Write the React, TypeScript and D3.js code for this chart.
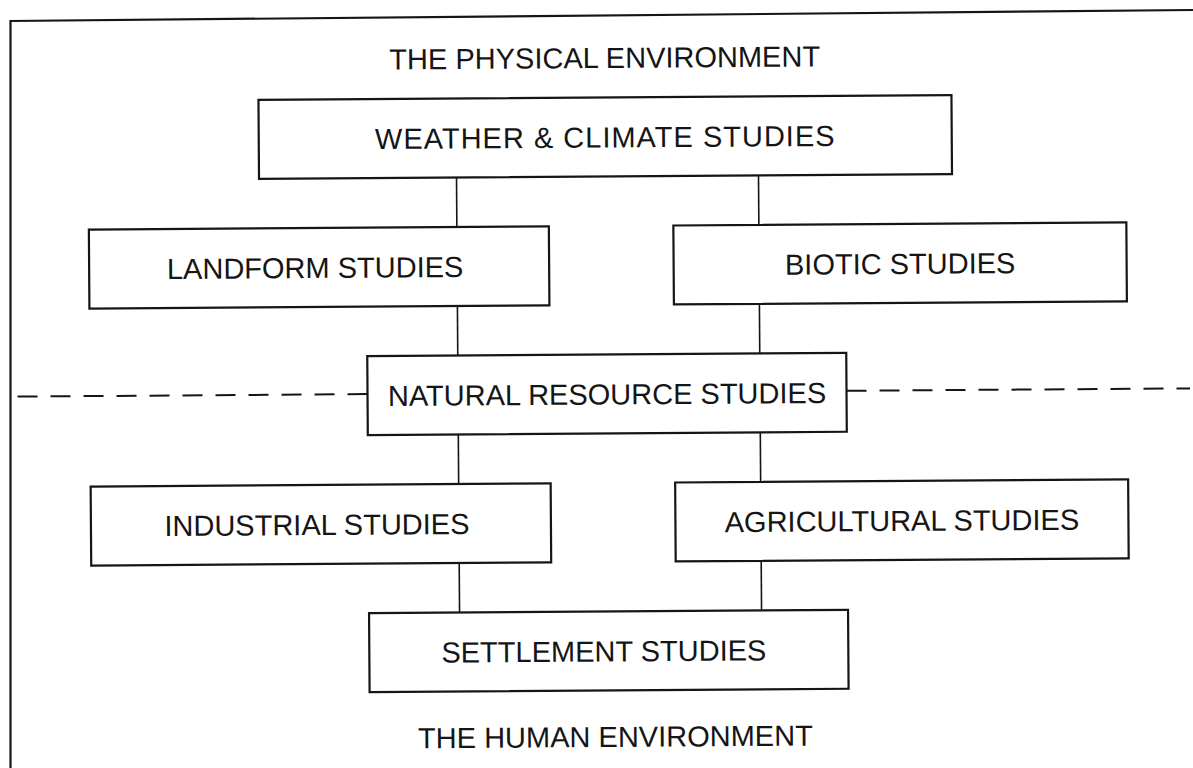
import React, { useEffect, useRef } from 'react';
import * as d3 from 'd3';

const W = 1193;
const H = 768;

const headings = ['THE PHYSICAL ENVIRONMENT', 'THE HUMAN ENVIRONMENT'];
const centreStudies = ['WEATHER & CLIMATE STUDIES', 'NATURAL RESOURCE STUDIES', 'SETTLEMENT STUDIES'];
const leftStudies = ['LANDFORM STUDIES', 'INDUSTRIAL STUDIES'];
const rightStudies = ['BIOTIC STUDIES', 'AGRICULTURAL STUDIES'];
// parent -> child
const links = [
  ['WEATHER & CLIMATE STUDIES', 'LANDFORM STUDIES'],
  ['WEATHER & CLIMATE STUDIES', 'BIOTIC STUDIES'],
  ['LANDFORM STUDIES', 'NATURAL RESOURCE STUDIES'],
  ['BIOTIC STUDIES', 'NATURAL RESOURCE STUDIES'],
  ['NATURAL RESOURCE STUDIES', 'INDUSTRIAL STUDIES'],
  ['NATURAL RESOURCE STUDIES', 'AGRICULTURAL STUDIES'],
  ['INDUSTRIAL STUDIES', 'SETTLEMENT STUDIES'],
  ['AGRICULTURAL STUDIES', 'SETTLEMENT STUDIES'],
];

const INK = '#151515';
const FONT = '"Liberation Sans", Arial, Helvetica, sans-serif';

const App = () => {
  const svgRef = useRef<SVGSVGElement>(null);

  useEffect(() => {
    const svg = d3.select(svgRef.current);
    svg.selectAll('*').remove();

    // build nodes
    const nodes = [
      ...centreStudies.map((name, i) => ({ name, row: i * 2, col: 'centre' })),
      ...leftStudies.map((name, i) => ({ name, row: i * 2 + 1, col: 'left' })),
      ...rightStudies.map((name, i) => ({ name, row: i * 2 + 1, col: 'right' })),
    ];
    const byName = new Map(nodes.map(d => [d.name, d]));

    const y = d3.scaleLinear().domain([0, 4]).range([137, 651]);
    const xCol = d3.scaleOrdinal<string, number>().domain(['left', 'centre', 'right']).range([320, 607, 901]);
    const colWidth = d3.scaleOrdinal<string, number>().domain(['left', 'centre', 'right']).range([460, 479, 453]);
    const lane = d3.scaleOrdinal<string, number>().domain(['left', 'right']).range([458, 760]);
    const boxH = 79;
    const boxW = (d) => (d.row === 0 ? 693 : colWidth(d.col));

    // frame (slightly skewed scan)
    svg.append('line')
      .attr('x1', 10).attr('y1', 21).attr('x2', W).attr('y2', 10)
      .attr('stroke', INK).attr('stroke-width', 2.2);
    svg.append('line')
      .attr('x1', 10.5).attr('y1', 20).attr('x2', 10.5).attr('y2', H)
      .attr('stroke', INK).attr('stroke-width', 2.2);

    const g = svg.append('g').attr('transform', 'rotate(-0.4, 600, 390)');

    // dashed divider through natural resources
    const nat = byName.get('NATURAL RESOURCE STUDIES');
    const ny = y(nat.row) - 1.5;
    g.append('line')
      .attr('x1', xCol(nat.col) - boxW(nat) / 2).attr('x2', 12)
      .attr('y1', ny).attr('y2', ny)
      .attr('stroke', INK).attr('stroke-width', 2).attr('stroke-dasharray', '20,13');
    g.append('line')
      .attr('x1', xCol(nat.col) + boxW(nat) / 2).attr('x2', 1190)
      .attr('y1', ny).attr('y2', ny)
      .attr('stroke', INK).attr('stroke-width', 2).attr('stroke-dasharray', '20,13');

    // connectors
    const laneX = d => {
      const s = byName.get(d[0]), t = byName.get(d[1]);
      return lane(s.col === 'centre' ? t.col : s.col);
    };
    g.selectAll('.link')
      .data(links)
      .enter().append('line')
      .attr('class', 'link')
      .attr('x1', laneX)
      .attr('x2', laneX)
      .attr('y1', d => y(byName.get(d[0]).row) + boxH / 2)
      .attr('y2', d => y(byName.get(d[1]).row) - boxH / 2)
      .attr('stroke', INK).attr('stroke-width', 1.6);

    // boxes
    const node = g.selectAll('.node')
      .data(nodes)
      .enter().append('g')
      .attr('class', 'node')
      .attr('transform', d => `translate(${xCol(d.col)},${y(d.row)})`);

    node.append('rect')
      .attr('x', d => -boxW(d) / 2)
      .attr('y', -boxH / 2)
      .attr('width', d => boxW(d))
      .attr('height', boxH)
      .attr('fill', '#fff')
      .attr('stroke', INK)
      .attr('stroke-width', 2.2);

    node.append('text')
      .attr('text-anchor', 'middle')
      .attr('x', d => (d.row === 4 ? -5 : d.col === 'left' ? -4 : 0))
      .attr('y', 10.5)
      .attr('font-family', FONT)
      .attr('font-size', 29)
      .attr('letter-spacing', d => (d.row === 0 ? 1 : 0))
      .attr('fill', INK)
      .text(d => d.name);

    // headings
    g.selectAll('.heading')
      .data(headings)
      .enter().append('text')
      .attr('class', 'heading')
      .attr('text-anchor', 'middle')
      .attr('x', (d, i) => (i === 0 ? 607 : 613))
      .attr('y', (d, i) => (i === 0 ? 68 : 747))
      .attr('font-family', FONT)
      .attr('font-size', 29)
      .attr('fill', INK)
      .text(d => d);
  }, []);

  return (
    <svg
      ref={svgRef}
      width={W}
      height={H}
      style={{ position: 'fixed', left: 0, top: 0, background: '#fff', display: 'block' }}
    />
  );
};

export default App;
